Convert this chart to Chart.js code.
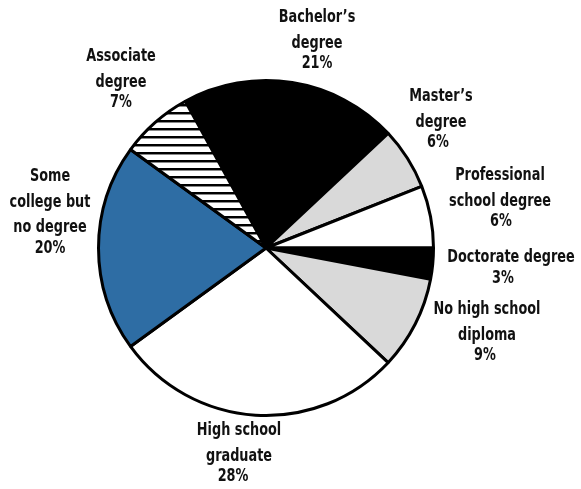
<!DOCTYPE html>
<html lang="en">
<head>
    <meta charset="UTF-8">
    <title>Educational attainment</title>
    <script src="https://cdn.jsdelivr.net/npm/chart.js"></script>
    <style>
        html, body {
            margin: 0;
            padding: 0;
            background: #fff;
        }
        #wrap {
            width: 581px;
            height: 489px;
        }
    </style>
</head>
<body>
    <div id="wrap">
        <canvas id="attainmentChart" width="581" height="489"></canvas>
    </div>

    <script>
        // Share of adults by highest level of education (%)
        const categories = [
            'Bachelor’s degree', 'Master’s degree', 'Professional school degree',
            'Doctorate degree', 'No high school diploma', 'High school graduate',
            'Some college but no degree', 'Associate degree'
        ];
        const shares = [21, 6, 6, 3, 9, 28, 20, 7];
        // how each category name is broken over lines in its label
        const labelLines = [
            ['Bachelor’s', 'degree'],
            ['Master’s', 'degree'],
            ['Professional', 'school degree'],
            ['Doctorate degree'],
            ['No high school', 'diploma'],
            ['High school', 'graduate'],
            ['Some', 'college but', 'no degree'],
            ['Associate', 'degree']
        ];

        // label block placement relative to the pie centre: [dx, dy of first line, dx of % line]
        const labelPlace = [
            [51, -230, 51],
            [175, -151, 172],
            [234, -72, 235],
            [245, 10, 237],
            [221, 62, 219],
            [-27, 183, -33],
            [-216, -71, -216],
            [-145, -191, -145]
        ];

        // horizontal hatching for the associate slice
        function hatch() {
            const c = document.createElement('canvas');
            c.width = 8;
            c.height = 8;
            const g = c.getContext('2d');
            g.fillStyle = '#fff';
            g.fillRect(0, 0, 8, 8);
            g.fillStyle = '#000';
            g.fillRect(0, 0, 8, 2);
            g.fillStyle = '#888';
            g.fillRect(0, 2, 8, 1);
            return g.createPattern(c, 'repeat');
        }

        const ctx = document.getElementById('attainmentChart').getContext('2d');
        const sliceColors = ['#000000', '#d9d9d9', '#ffffff', '#000000', '#d9d9d9', '#ffffff', '#2e6da4', hatch()];

        // narrow lettering: condensed face squeezed a little more horizontally
        const FONT = 'bold 17px "DejaVu Sans Condensed", sans-serif';
        const SQUEEZE = 0.84;

        const outsideLabels = {
            id: 'outsideLabels',
            afterDatasetsDraw(chart) {
                const c = chart.ctx;
                const arcs = chart.getDatasetMeta(0).data;
                const put = (text, x, y) => {
                    c.save();
                    c.translate(x, y);
                    c.scale(SQUEEZE, 1);
                    c.fillText(text, 0, 0);
                    c.restore();
                };
                c.save();
                c.font = FONT;
                c.fillStyle = '#111';
                c.textAlign = 'center';
                c.textBaseline = 'middle';
                arcs.forEach((arc, i) => {
                    const [dx, dy, pdx] = labelPlace[i];
                    let y = arc.y + dy;
                    labelLines[i].forEach(line => {
                        put(line, arc.x + dx, y);
                        y += 25.5;
                    });
                    y -= 5;
                    put(shares[i] + '%', arc.x + pdx, y);
                });
                c.restore();
            }
        };

        new Chart(ctx, {
            type: 'pie',
            data: {
                labels: categories,
                datasets: [{
                    data: shares,
                    backgroundColor: sliceColors,
                    borderColor: '#000',
                    borderWidth: 3
                }]
            },
            options: {
                responsive: false,
                animation: false,
                rotation: -28.8,
                layout: {
                    padding: { left: 97, right: 146, top: 79, bottom: 72 }
                },
                plugins: {
                    legend: { display: false },
                    tooltip: { enabled: false }
                }
            },
            plugins: [outsideLabels]
        });
    </script>
</body>
</html>
